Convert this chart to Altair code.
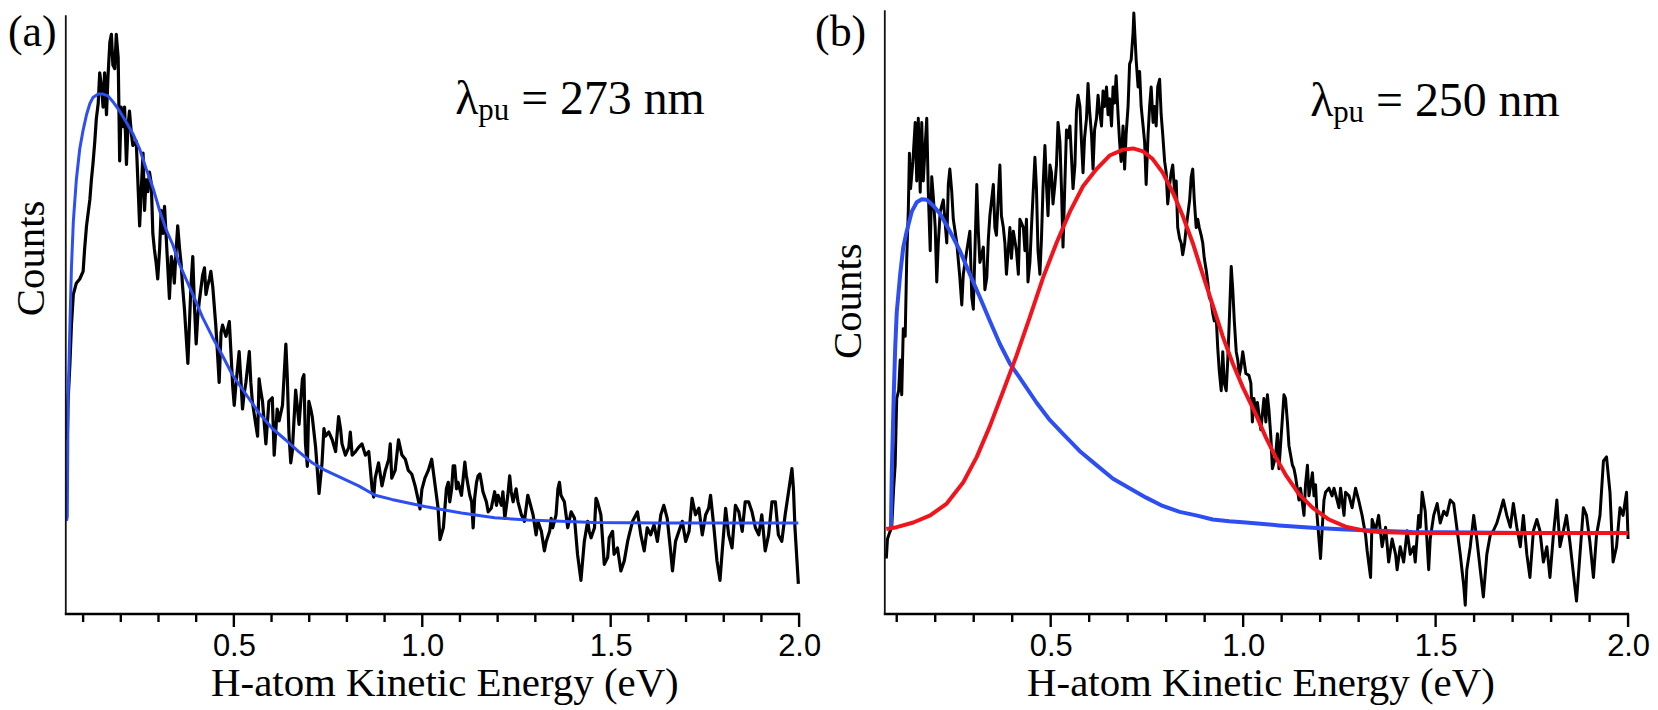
import altair as alt
import pandas as pd

# ---------------- data ----------------
# panel (a): lambda_pu = 273 nm  (energy in eV, counts in arbitrary units)
a_black_E = [0.058, 0.060, 0.065, 0.069, 0.074, 0.082, 0.091, 0.100, 0.104, 0.109, 0.118, 0.122, 0.126, 0.131, 0.135,
             0.140, 0.144, 0.149, 0.153, 0.157, 0.162, 0.166, 0.171, 0.175, 0.179, 0.184, 0.188, 0.193, 0.197, 0.201,
             0.206, 0.210, 0.215, 0.219, 0.223, 0.228, 0.232, 0.241, 0.250, 0.254, 0.259, 0.263, 0.267, 0.272, 0.276,
             0.281, 0.285, 0.289, 0.294, 0.298, 0.303, 0.307, 0.312, 0.316, 0.320, 0.329, 0.334, 0.338, 0.342, 0.347,
             0.351, 0.356, 0.360, 0.364, 0.369, 0.378, 0.382, 0.386, 0.391, 0.395, 0.400, 0.404, 0.408, 0.417, 0.422,
             0.426, 0.430, 0.435, 0.439, 0.444, 0.452, 0.457, 0.461, 0.466, 0.470, 0.479, 0.488, 0.497, 0.501, 0.505,
             0.514, 0.519, 0.523, 0.527, 0.532, 0.541, 0.545, 0.549, 0.558, 0.563, 0.567, 0.571, 0.576, 0.585, 0.593,
             0.602, 0.607, 0.611, 0.615, 0.620, 0.629, 0.638, 0.642, 0.646, 0.651, 0.655, 0.664, 0.673, 0.682, 0.686,
             0.690, 0.695, 0.699, 0.704, 0.708, 0.717, 0.726, 0.734, 0.739, 0.743, 0.752, 0.761, 0.770, 0.778, 0.783,
             0.787, 0.796, 0.805, 0.809, 0.814, 0.823, 0.831, 0.840, 0.849, 0.858, 0.867, 0.871, 0.875, 0.884, 0.893,
             0.902, 0.911, 0.915, 0.919, 0.928, 0.937, 0.946, 0.955, 0.963, 0.972, 0.981, 0.990, 0.994, 0.999, 1.007,
             1.016, 1.025, 1.042, 1.047, 1.056, 1.064, 1.069, 1.073, 1.078, 1.082, 1.086, 1.091, 1.095, 1.104, 1.113,
             1.117, 1.126, 1.131, 1.135, 1.139, 1.144, 1.148, 1.153, 1.157, 1.161, 1.170, 1.175, 1.183, 1.192, 1.197,
             1.201, 1.210, 1.214, 1.219, 1.227, 1.232, 1.236, 1.241, 1.245, 1.249, 1.254, 1.263, 1.271, 1.280, 1.285,
             1.294, 1.302, 1.307, 1.316, 1.324, 1.329, 1.338, 1.342, 1.346, 1.355, 1.360, 1.364, 1.368, 1.377, 1.386,
             1.395, 1.404, 1.412, 1.421, 1.430, 1.439, 1.443, 1.448, 1.457, 1.461, 1.465, 1.474, 1.483, 1.492, 1.496,
             1.505, 1.509, 1.518, 1.527, 1.536, 1.545, 1.549, 1.558, 1.567, 1.571, 1.580, 1.589, 1.597, 1.606, 1.615,
             1.624, 1.633, 1.641, 1.650, 1.659, 1.664, 1.672, 1.681, 1.690, 1.699, 1.708, 1.716, 1.725, 1.734, 1.743,
             1.752, 1.760, 1.765, 1.774, 1.782, 1.790, 1.796, 1.805, 1.813, 1.822, 1.831, 1.840, 1.849, 1.857, 1.866,
             1.875, 1.884, 1.893, 1.901, 1.910, 1.919, 1.928, 1.937, 1.945, 1.954, 1.963, 1.972, 1.981, 1.985, 1.989,
             1.998]
a_black_C = [29.5, 36.0, 42.4, 48.9, 54.1, 56.0, 56.7, 58.0, 61.8, 65.7, 70.2, 73.5, 76.1, 80.0, 83.8,
             86.4, 91.6, 89.0, 85.8, 91.6, 84.5, 91.0, 96.8, 98.1, 92.9, 92.3, 98.1, 94.2, 76.7, 85.8,
             82.5, 85.8, 76.1, 82.5, 85.1, 81.3, 79.3, 80.0, 65.7, 71.5, 78.0, 68.3, 73.5, 71.5, 74.8,
             72.8, 64.4, 61.8, 59.3, 56.7, 61.8, 68.3, 64.4, 69.0, 64.4, 53.4, 60.5, 59.3, 56.0, 61.8,
             65.7, 61.8, 59.3, 55.4, 51.5, 42.4, 48.9, 55.4, 60.5, 52.8, 45.7, 50.2, 52.8, 57.3, 58.6,
             54.1, 55.4, 56.7, 58.0, 55.4, 48.9, 43.7, 39.2, 47.6, 48.9, 47.0, 49.5, 38.5, 35.3, 38.5,
             44.4, 39.2, 34.7, 37.2, 39.2, 44.4, 39.2, 36.0, 32.1, 30.1, 39.8, 37.9, 36.0, 28.8, 36.0,
             36.6, 26.9, 30.8, 34.7, 32.7, 35.3, 45.7, 39.8, 30.8, 25.6, 27.5, 37.9, 32.1, 39.8, 40.5,
             28.8, 25.0, 36.0, 34.7, 33.4, 28.2, 20.4, 25.6, 31.4, 30.1, 30.8, 29.5, 27.5, 33.4, 31.4,
             28.8, 26.9, 28.2, 30.8, 26.9, 27.5, 28.2, 28.8, 26.9, 27.5, 21.1, 19.8, 23.0, 25.6, 21.7,
             24.3, 26.2, 28.8, 23.0, 24.3, 29.5, 26.9, 26.2, 24.3, 23.7, 21.7, 19.1, 17.8, 21.1, 23.0,
             24.3, 26.2, 17.9, 12.6, 14.6, 21.2, 22.3, 19.0, 21.2, 25.1, 25.1, 21.2, 22.3, 20.1, 25.7,
             23.4, 20.1, 19.0, 14.6, 19.6, 22.3, 23.4, 23.7, 22.3, 20.7, 19.0, 17.3, 17.9, 20.7, 18.4,
             20.1, 18.4, 20.7, 16.2, 20.1, 23.4, 20.7, 19.0, 20.1, 21.2, 19.0, 16.8, 15.7, 20.1, 19.0,
             16.8, 13.4, 15.7, 14.0, 10.7, 12.3, 14.0, 16.2, 14.6, 16.8, 21.2, 22.3, 20.1, 19.0, 14.6,
             17.3, 16.2, 10.1, 5.7, 12.3, 15.7, 14.0, 12.9, 14.6, 19.6, 19.0, 16.8, 8.4, 9.6, 12.9,
             14.0, 10.1, 11.2, 7.3, 9.0, 12.3, 13.4, 15.7, 16.8, 17.3, 13.4, 10.7, 14.6, 13.4, 15.1,
             12.3, 16.8, 18.4, 16.2, 10.7, 7.3, 12.3, 14.0, 15.7, 12.3, 14.0, 19.6, 16.8, 17.9, 13.4,
             16.8, 17.9, 20.1, 14.6, 9.0, 5.7, 10.7, 17.9, 13.4, 11.2, 18.4, 17.3, 14.0, 19.0, 19.0,
             17.3, 14.6, 13.4, 16.8, 10.7, 13.4, 19.0, 19.0, 13.4, 12.3, 16.8, 20.7, 24.6, 21.2, 14.6,
             5.1]
a_fit_E = [0.056, 0.058, 0.060, 0.065, 0.069, 0.074, 0.082, 0.091, 0.100, 0.109, 0.118, 0.126, 0.140, 0.153, 0.166,
           0.179, 0.197, 0.215, 0.232, 0.250, 0.267, 0.285, 0.303, 0.320, 0.338, 0.355, 0.373, 0.391, 0.417, 0.443,
           0.470, 0.496, 0.532, 0.567, 0.602, 0.637, 0.672, 0.708, 0.743, 0.787, 0.831, 0.875, 0.919, 0.963, 1.007,
           1.104, 1.192, 1.280, 1.368, 1.456, 1.632, 1.809, 1.998]
a_fit_C = [15.8, 16.5, 35.9, 48.9, 58.6, 66.4, 73.5, 78.7, 81.9, 84.5, 86.4, 87.4, 88.0, 88.0, 87.7,
           86.7, 85.1, 83.2, 81.3, 78.7, 75.4, 72.2, 68.3, 65.1, 62.5, 59.3, 56.7, 54.1, 50.2, 46.9,
           43.7, 40.5, 37.2, 34.0, 31.4, 29.5, 27.5, 25.6, 24.3, 23.0, 21.7, 20.1, 19.4, 18.8, 18.2,
           17.1, 16.3, 15.9, 15.7, 15.5, 15.4, 15.4, 15.4]

# panel (b): lambda_pu = 250 nm
b_black_E = [0.073, 0.076, 0.081, 0.087, 0.092, 0.096, 0.100, 0.105, 0.109, 0.113, 0.117, 0.122, 0.126, 0.130, 0.133,
             0.136, 0.142, 0.148, 0.152, 0.156, 0.161, 0.165, 0.169, 0.174, 0.178, 0.182, 0.187, 0.191, 0.195, 0.200,
             0.204, 0.208, 0.213, 0.221, 0.230, 0.234, 0.238, 0.243, 0.247, 0.256, 0.264, 0.269, 0.273, 0.282, 0.290,
             0.295, 0.299, 0.308, 0.312, 0.316, 0.325, 0.329, 0.334, 0.338, 0.342, 0.351, 0.355, 0.359, 0.368, 0.372,
             0.377, 0.381, 0.385, 0.394, 0.398, 0.403, 0.411, 0.416, 0.420, 0.429, 0.433, 0.437, 0.441, 0.446, 0.450,
             0.454, 0.459, 0.463, 0.467, 0.472, 0.476, 0.480, 0.485, 0.489, 0.493, 0.498, 0.502, 0.506, 0.511, 0.515,
             0.519, 0.524, 0.528, 0.532, 0.537, 0.541, 0.545, 0.550, 0.554, 0.558, 0.563, 0.567, 0.571, 0.576, 0.580,
             0.584, 0.588, 0.593, 0.597, 0.601, 0.606, 0.610, 0.614, 0.619, 0.623, 0.627, 0.632, 0.636, 0.640, 0.645,
             0.649, 0.653, 0.658, 0.662, 0.666, 0.670, 0.675, 0.679, 0.683, 0.688, 0.692, 0.696, 0.701, 0.705, 0.709,
             0.714, 0.716, 0.719, 0.722, 0.727, 0.731, 0.735, 0.740, 0.744, 0.748, 0.753, 0.757, 0.761, 0.766, 0.770,
             0.774, 0.778, 0.783, 0.787, 0.791, 0.796, 0.800, 0.804, 0.809, 0.813, 0.817, 0.822, 0.826, 0.830, 0.835,
             0.839, 0.843, 0.848, 0.852, 0.861, 0.865, 0.869, 0.873, 0.878, 0.882, 0.886, 0.891, 0.895, 0.899, 0.904,
             0.908, 0.912, 0.917, 0.921, 0.925, 0.930, 0.934, 0.938, 0.943, 0.947, 0.951, 0.956, 0.960, 0.964, 0.969,
             0.973, 0.977, 0.982, 0.986, 0.990, 0.994, 0.999, 1.007, 1.015, 1.020, 1.024, 1.028, 1.033, 1.037, 1.046,
             1.054, 1.059, 1.063, 1.067, 1.072, 1.076, 1.084, 1.089, 1.093, 1.102, 1.106, 1.110, 1.115, 1.119, 1.128,
             1.132, 1.136, 1.145, 1.149, 1.158, 1.162, 1.167, 1.171, 1.180, 1.184, 1.188, 1.192, 1.201, 1.205, 1.210,
             1.214, 1.223, 1.231, 1.236, 1.244, 1.249, 1.253, 1.262, 1.266, 1.275, 1.283, 1.292, 1.300, 1.309, 1.318,
             1.322, 1.331, 1.335, 1.344, 1.352, 1.361, 1.370, 1.378, 1.387, 1.396, 1.400, 1.408, 1.417, 1.426, 1.434,
             1.443, 1.447, 1.456, 1.460, 1.465, 1.473, 1.482, 1.486, 1.495, 1.504, 1.512, 1.521, 1.529, 1.538, 1.547,
             1.555, 1.564, 1.573, 1.577, 1.581, 1.590, 1.599, 1.607, 1.616, 1.624, 1.633, 1.642, 1.650, 1.659, 1.668,
             1.676, 1.685, 1.694, 1.702, 1.711, 1.720, 1.728, 1.737, 1.745, 1.754, 1.763, 1.771, 1.780, 1.789, 1.797,
             1.806, 1.815, 1.823, 1.832, 1.840, 1.849, 1.858, 1.866, 1.875, 1.884, 1.892, 1.901, 1.910, 1.918, 1.927,
             1.936, 1.944, 1.953, 1.961, 1.970, 1.979, 1.987, 1.996, 2.000]
b_black_C = [9.4, 12.7, 13.7, 14.7, 21.3, 25.3, 36.5, 37.8, 43.0, 37.1, 48.3, 47.0, 60.2, 68.1, 78.0,
             72.0, 76.6, 83.2, 73.3, 83.9, 71.4, 83.2, 73.3, 79.3, 83.9, 71.4, 61.5, 74.0, 70.7, 65.4,
             56.2, 62.8, 68.1, 70.1, 62.8, 72.7, 75.3, 71.4, 66.8, 62.8, 56.9, 52.3, 57.5, 61.5, 64.8,
             53.6, 51.6, 72.7, 64.8, 59.5, 62.1, 54.9, 56.9, 63.5, 67.4, 72.7, 65.4, 64.1, 76.0, 67.4,
             65.4, 62.8, 57.5, 65.4, 60.2, 64.8, 61.5, 57.5, 66.8, 65.4, 61.5, 66.8, 56.2, 59.5, 65.4,
             70.7, 77.3, 72.0, 61.5, 57.5, 63.5, 72.0, 79.3, 72.7, 67.4, 76.0, 74.7, 69.4, 72.7, 76.0,
             83.2, 79.9, 72.0, 62.1, 73.3, 81.9, 80.6, 82.6, 77.3, 72.0, 76.0, 85.2, 87.8, 85.9, 79.9,
             74.7, 80.6, 83.9, 89.8, 85.2, 81.2, 75.3, 81.9, 83.9, 87.8, 85.2, 82.6, 88.5, 85.9, 89.2,
             84.5, 87.2, 82.6, 89.2, 86.5, 91.1, 84.5, 79.9, 76.6, 82.6, 75.3, 81.2, 85.9, 93.1, 93.8,
             98.4, 101.7, 97.7, 93.8, 89.2, 91.8, 85.9, 82.6, 79.9, 72.7, 81.2, 85.9, 89.2, 83.2, 85.9,
             82.6, 89.2, 90.5, 84.5, 81.2, 76.6, 74.7, 69.4, 72.7, 74.7, 76.0, 71.4, 73.3, 65.4, 63.5,
             62.8, 60.8, 62.8, 65.4, 70.1, 74.0, 75.3, 70.1, 65.4, 66.8, 65.4, 64.1, 62.8, 60.2, 58.2,
             56.2, 53.6, 52.9, 50.9, 49.6, 50.3, 45.0, 41.1, 37.8, 44.4, 39.1, 37.8, 43.0, 49.6, 58.8,
             54.9, 49.6, 44.4, 43.0, 40.4, 41.7, 44.4, 40.7, 40.4, 39.1, 32.5, 36.5, 33.8, 35.8, 31.2,
             36.5, 32.5, 37.1, 34.5, 29.9, 24.6, 26.6, 30.5, 24.6, 33.2, 37.1, 36.5, 32.5, 28.5, 25.2,
             24.6, 23.3, 19.3, 21.3, 16.7, 21.9, 25.2, 20.0, 23.9, 20.0, 21.9, 16.7, 9.4, 14.1, 19.3,
             20.6, 21.3, 20.0, 21.3, 19.3, 18.0, 21.3, 16.7, 20.6, 20.0, 18.0, 21.3, 19.3, 16.7, 13.4,
             10.8, 6.2, 16.0, 14.1, 16.7, 11.4, 14.7, 8.8, 12.7, 10.1, 7.5, 11.4, 8.8, 14.1, 10.1,
             11.4, 8.8, 16.7, 14.7, 20.6, 17.4, 7.5, 12.7, 16.7, 18.7, 15.4, 17.4, 16.7, 19.3, 18.7,
             14.7, 10.1, 4.8, 1.5, 7.5, 11.4, 16.7, 12.7, 7.5, 2.9, 10.1, 13.4, 14.1, 15.4, 17.4,
             19.3, 16.7, 14.7, 18.7, 14.7, 11.4, 16.7, 10.1, 6.2, 14.1, 16.0, 14.1, 8.8, 11.4, 6.2,
             13.4, 19.3, 11.4, 14.1, 16.7, 12.1, 6.8, 2.2, 10.1, 18.0, 16.7, 12.1, 6.2, 13.4, 16.7,
             25.9, 26.6, 20.6, 8.8, 11.4, 18.0, 16.7, 20.6, 12.7]
b_blue_E = [0.083, 0.085, 0.087, 0.092, 0.096, 0.100, 0.109, 0.117, 0.126, 0.139, 0.152, 0.165, 0.178, 0.195, 0.213,
            0.238, 0.264, 0.290, 0.316, 0.342, 0.368, 0.394, 0.429, 0.463, 0.498, 0.532, 0.575, 0.619, 0.662, 0.705,
            0.748, 0.791, 0.835, 0.878, 0.921, 0.964, 1.007, 1.093, 1.180, 1.266, 1.352, 1.439, 1.600, 1.800, 2.000]
b_blue_C = [14.4, 14.7, 23.3, 36.5, 45.0, 51.0, 57.5, 62.1, 64.8, 68.1, 69.7, 70.2, 70.1, 69.1, 67.7,
            64.8, 61.5, 57.5, 53.6, 49.6, 45.7, 42.4, 39.1, 35.8, 32.8, 30.5, 27.6, 25.2, 22.9, 21.3,
            19.7, 18.3, 17.3, 16.7, 16.0, 15.7, 15.5, 15.0, 14.6, 14.3, 14.1, 13.9, 13.8, 13.7, 13.7]
b_red_E = [0.073, 0.100, 0.143, 0.187, 0.230, 0.273, 0.308, 0.342, 0.377, 0.411, 0.446, 0.480, 0.515, 0.550, 0.584,
           0.619, 0.653, 0.688, 0.714, 0.740, 0.765, 0.791, 0.817, 0.843, 0.869, 0.895, 0.921, 0.947, 0.973, 0.999,
           1.033, 1.059, 1.084, 1.110, 1.145, 1.180, 1.223, 1.266, 1.309, 1.352, 1.439, 2.000]
b_red_C = [14.4, 14.7, 15.5, 16.7, 18.7, 22.3, 26.6, 31.8, 37.8, 43.7, 50.3, 56.9, 62.8, 68.1, 72.4,
           75.3, 77.6, 78.6, 78.8, 78.3, 77.0, 74.7, 71.4, 67.4, 62.8, 57.5, 52.3, 47.0, 42.4, 38.4,
           33.8, 29.9, 26.6, 23.6, 20.3, 18.0, 16.0, 14.8, 14.2, 13.9, 13.7, 13.7]

tick_major = [0.5, 1.0, 1.5, 2.0]
tick_minor = [0.1, 0.2, 0.3, 0.4, 0.6, 0.7, 0.8, 0.9, 1.1, 1.2, 1.3, 1.4, 1.6, 1.7, 1.8, 1.9]
x_title = "H-atom Kinetic Energy (eV)"
y_title = "Counts"
panel_tags = ["(a)", "(b)"]
lam_main = "λ"
lam_sub = "pu"
lam_rest = ["= 273 nm", "= 250 nm"]

# ---------------- styling ----------------
H = 599
SERIF = "Liberation Serif"
SANS = "Liberation Sans"
BLUE = "#2c4ef2"
RED = "#f2141c"


def txt(s, x, y, size, angle=None, align="left", baseline="alphabetic"):
    kw = dict(font=SERIF, fontSize=size, color="black", align=align, baseline=baseline)
    if angle is not None:
        kw["angle"] = angle
    return alt.Chart(pd.DataFrame({"t": [s]})).mark_text(**kw).encode(
        text="t:N", x=alt.value(x), y=alt.value(y))


def panel(width, xdom, black, black_w, fits, tag, rest, tag_x, cnt_x, cnt_y, lam_x, lam_y, yaxis_top, title_x):
    xs = alt.Scale(domain=xdom, nice=False, zero=False)
    ys = alt.Scale(domain=[0, 101], nice=False, zero=False)
    xaxis = alt.Axis(values=tick_major, format=".1f", grid=False, labelFlush=False, labelOverlap=False,
                     domain=False, ticks=False, tickSize=0,
                     labelFont=SANS, labelFontSize=31, labelColor="black", labelPadding=18,
                     title=x_title, titleFont=SERIF, titleFontSize=41, titleFontWeight="normal",
                     titleColor="black", titleBaseline="alphabetic", titleX=title_x, titleY=82)
    layers = [
        alt.Chart(black).mark_line(color="black", strokeWidth=black_w, strokeJoin="round").encode(
            x=alt.X("E:Q", scale=xs, axis=xaxis), y=alt.Y("C:Q", scale=ys, axis=None))
    ]
    for df, col, sw in fits:
        layers.append(alt.Chart(df).mark_line(color=col, strokeWidth=sw, strokeJoin="round").encode(
            x=alt.X("E:Q", scale=xs, axis=xaxis), y=alt.Y("C:Q", scale=ys, axis=None)))
    # minor and major tick marks, x-axis line, y-axis line
    layers.append(alt.Chart(pd.DataFrame({"E": tick_minor})).mark_rule(color="black", strokeWidth=2.4).encode(
        x=alt.X("E:Q", scale=xs, axis=xaxis), y=alt.value(H), y2=alt.value(H + 8)))
    layers.append(alt.Chart(pd.DataFrame({"E": tick_major})).mark_rule(color="black", strokeWidth=2.4).encode(
        x=alt.X("E:Q", scale=xs, axis=xaxis), y=alt.value(H), y2=alt.value(H + 13)))
    layers.append(alt.Chart(pd.DataFrame({"v": [0]})).mark_rule(color="black", strokeWidth=2.4).encode(
        x=alt.value(-1), x2=alt.value(width + 1), y=alt.value(H)))
    layers.append(alt.Chart(pd.DataFrame({"v": [0]})).mark_rule(color="#111", strokeWidth=1.8).encode(
        x=alt.value(0), y=alt.value(yaxis_top), y2=alt.value(H)))
    layers.append(txt(tag, tag_x, 28.5, 44))
    layers.append(txt(y_title, cnt_x, cnt_y, 41, angle=270, align="center", baseline="middle"))
    layers.append(txt(lam_main, lam_x, lam_y, 48))
    layers.append(txt(lam_sub, lam_x + 23, lam_y + 6, 31))
    layers.append(txt(rest, lam_x + 66, lam_y, 48))
    return alt.layer(*layers).properties(width=width, height=H)


a_black = pd.DataFrame({"E": a_black_E, "C": a_black_C})
a_fit = pd.DataFrame({"E": a_fit_E, "C": a_fit_C})
b_black = pd.DataFrame({"E": b_black_E, "C": b_black_C})
b_blue = pd.DataFrame({"E": b_blue_E, "C": b_blue_C})
b_red = pd.DataFrame({"E": b_red_E, "C": b_red_C})

pa = panel(736, [0.054, 2.0], a_black, 3.2, [(a_fit, BLUE, 3)], panel_tags[0], lam_rest[0],
           tag_x=-58, cnt_x=-34, cnt_y=242, lam_x=391, lam_y=97, yaxis_top=-2, title_x=380)
pb = panel(746, [0.069, 2.0], b_black, 3.0, [(b_blue, BLUE, 4), (b_red, RED, 4)], panel_tags[1], lam_rest[1],
           tag_x=-70, cnt_x=-36, cnt_y=285, lam_x=427, lam_y=99, yaxis_top=-7, title_x=377)

chart = alt.hconcat(pa, pb, spacing=86, bounds="flush").properties(
    padding=0, background="white"
).configure_view(stroke=None)

chart.save("out.html", embed_options={"renderer": "svg", "actions": False})
